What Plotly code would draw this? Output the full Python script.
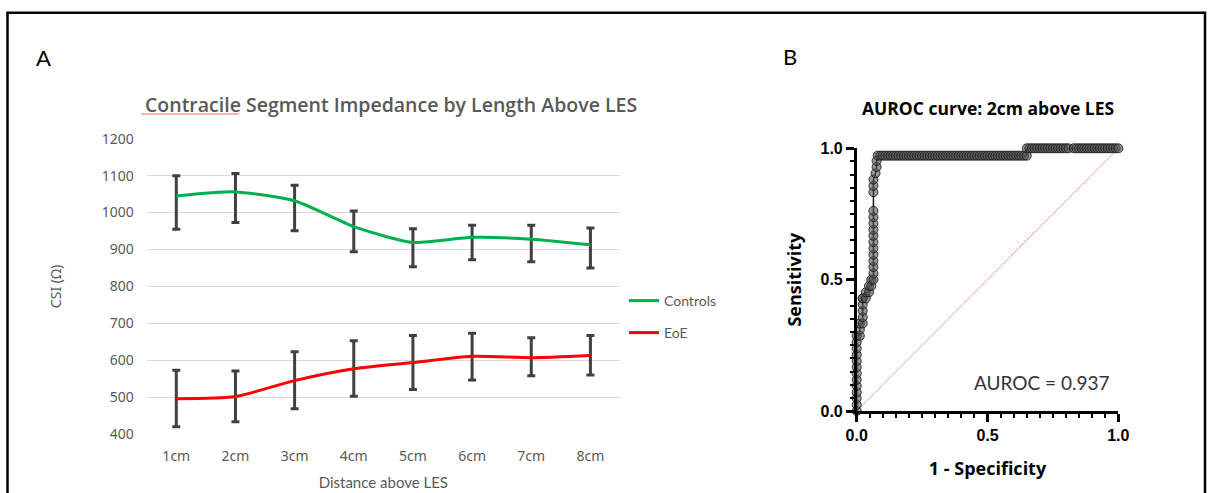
import plotly.graph_objects as go

W, H = 1212, 493

# ---------------- Data: panel A ----------------
distances = ["1cm", "2cm", "3cm", "4cm", "5cm", "6cm", "7cm", "8cm"]
controls_mean = [1045, 1056, 1032, 962, 919, 933, 928, 913]
controls_upper = [1100, 1106, 1074, 1004, 956, 966, 966, 958]
controls_lower = [955, 973, 951, 894, 853, 872, 867, 850]
eoe_mean = [496, 502, 545, 577, 594, 611, 607, 613]
eoe_upper = [573, 571, 623, 653, 667, 673, 661, 667]
eoe_lower = [420, 434, 469, 503, 521, 547, 558, 560]
y_ticks_a = [400, 500, 600, 700, 800, 900, 1000, 1100, 1200]

# ---------------- Data: panel B (ROC) ----------------
roc_fpr = [0, 0, 0, 0, 0, 0, 0, 0, 0, 0, 0, 0, 0,
           0.012, 0.012, 0.012, 0.023, 0.023, 0.023, 0.023, 0.023, 0.023,
           0.035, 0.035, 0.047, 0.047, 0.056, 0.056,
           0.064, 0.064, 0.064, 0.064, 0.064, 0.064, 0.064, 0.064, 0.064,
           0.064, 0.064, 0.064, 0.064, 0.064, 0.064,
           0.072, 0.076, 0.076,
           0.08, 0.09, 0.10, 0.11, 0.12, 0.13, 0.14, 0.15, 0.16, 0.17,
           0.18, 0.19, 0.20, 0.21, 0.22, 0.23, 0.24, 0.25, 0.26, 0.27,
           0.28, 0.29, 0.30, 0.31, 0.32, 0.33, 0.34, 0.35, 0.36, 0.37,
           0.38, 0.39, 0.40, 0.41, 0.42, 0.43, 0.44, 0.45, 0.46, 0.47,
           0.48, 0.49, 0.50, 0.51, 0.52, 0.53, 0.54, 0.55, 0.56, 0.57,
           0.58, 0.59, 0.60, 0.61, 0.62, 0.63, 0.64, 0.65,
           0.65, 0.66, 0.67, 0.68, 0.69, 0.70, 0.71, 0.72, 0.73, 0.74,
           0.75, 0.76, 0.77, 0.78, 0.79, 0.80, 0.81, 0.83, 0.84, 0.85,
           0.86, 0.87, 0.88, 0.89, 0.90, 0.91, 0.92, 0.93, 0.94, 0.95,
           0.96, 0.97, 0.98, 0.99, 1.0]
roc_tpr = [0, 0.024, 0.048, 0.071, 0.095, 0.119, 0.143, 0.167, 0.190, 0.214, 0.238, 0.262, 0.286,
           0.286, 0.310, 0.333, 0.333, 0.357, 0.381, 0.405, 0.429, 0.429,
           0.429, 0.452, 0.452, 0.476, 0.476, 0.500,
           0.500, 0.524, 0.548, 0.571, 0.595, 0.619, 0.643, 0.667, 0.690,
           0.714, 0.738, 0.762, 0.833, 0.857, 0.881,
           0.905, 0.929, 0.952,
           0.972, 0.972, 0.972, 0.972, 0.972, 0.972, 0.972, 0.972, 0.972, 0.972,
           0.972, 0.972, 0.972, 0.972, 0.972, 0.972, 0.972, 0.972, 0.972, 0.972,
           0.972, 0.972, 0.972, 0.972, 0.972, 0.972, 0.972, 0.972, 0.972, 0.972,
           0.972, 0.972, 0.972, 0.972, 0.972, 0.972, 0.972, 0.972, 0.972, 0.972,
           0.972, 0.972, 0.972, 0.972, 0.972, 0.972, 0.972, 0.972, 0.972, 0.972,
           0.972, 0.972, 0.972, 0.972, 0.972, 0.972, 0.972, 0.972,
           1.0, 1.0, 1.0, 1.0, 1.0, 1.0, 1.0, 1.0, 1.0, 1.0,
           1.0, 1.0, 1.0, 1.0, 1.0, 1.0, 1.0, 1.0, 1.0, 1.0,
           1.0, 1.0, 1.0, 1.0, 1.0, 1.0, 1.0, 1.0, 1.0, 1.0,
           1.0, 1.0, 1.0, 1.0, 1.0]
chance_x = [0, 1]
chance_y = [0, 1]
auroc_value = 0.937


def px(x):
    return x / W


def py(y):
    return 1 - y / H


GRAY_TXT = "#595959"
fig = go.Figure()

# ---- Panel A traces ----
fig.add_trace(go.Scatter(
    x=distances, y=controls_mean, mode="lines", name="Controls",
    line=dict(color="#00b050", width=3, shape="spline", smoothing=0.6),
    error_y=dict(type="data", symmetric=False,
                 array=[u - m for u, m in zip(controls_upper, controls_mean)],
                 arrayminus=[m - l for m, l in zip(controls_mean, controls_lower)],
                 color="#404040", thickness=3, width=4),
    xaxis="x", yaxis="y", legend="legend"))
fig.add_trace(go.Scatter(
    x=distances, y=eoe_mean, mode="lines", name="EoE",
    line=dict(color="#ff0000", width=3, shape="spline", smoothing=0.6),
    error_y=dict(type="data", symmetric=False,
                 array=[u - m for u, m in zip(eoe_upper, eoe_mean)],
                 arrayminus=[m - l for m, l in zip(eoe_mean, eoe_lower)],
                 color="#404040", thickness=3, width=4),
    xaxis="x", yaxis="y", legend="legend2"))

# ---- Panel B traces ----
fig.add_trace(go.Scatter(
    x=chance_x, y=chance_y, mode="lines", showlegend=False,
    line=dict(color="#ff9a9a", width=1), xaxis="x2", yaxis="y2", cliponaxis=False))
fig.add_trace(go.Scatter(
    x=roc_fpr, y=roc_tpr, mode="lines+markers", showlegend=False,
    line=dict(color="#111111", width=1.5),
    marker=dict(size=9, color="rgba(85,85,85,0.6)",
                line=dict(color="rgba(25,25,25,0.85)", width=1)),
    xaxis="x2", yaxis="y2", cliponaxis=False))

fig.update_layout(
    width=W, height=H, autosize=False,
    margin=dict(l=0, r=0, t=0, b=0, pad=0, autoexpand=False),
    paper_bgcolor="white", plot_bgcolor="white",
    font=dict(family="Lato, sans-serif", color=GRAY_TXT),
    xaxis=dict(domain=[px(146.7), px(620)], range=[-0.5, 7.5], type="category",
               showgrid=False, zeroline=False, showline=False, ticks="", automargin=False,
               ticklabelstandoff=12,
               tickfont=dict(family="Noto Sans", size=14, color=GRAY_TXT),
               title=dict(text="Distance above LES", font=dict(family="Lato", size=15, color=GRAY_TXT),
                          standoff=13),
               anchor="y"),
    yaxis=dict(domain=[py(434.2), py(138.7)], range=[400, 1200], tickvals=y_ticks_a,
               showgrid=True, gridcolor="#d9d9d9", gridwidth=1, zeroline=False,
               showline=False, ticks="", automargin=False, ticklabelstandoff=12,
               tickfont=dict(family="Noto Sans", size=14, color=GRAY_TXT),
               title=dict(text="CSI (Ω)", font=dict(family="Noto Sans", size=14, color=GRAY_TXT),
                          standoff=36),
               anchor="x"),
    xaxis2=dict(domain=[px(856.7), px(1118.3)], range=[0, 1], tickvals=[0, 0.5, 1.0],
                ticktext=["0.0", "0.5", "1.0"], automargin=False,
                showgrid=False, zeroline=False, showline=True, linecolor="black", linewidth=2.5,
                ticks="outside", ticklen=8, tickwidth=2.5, tickcolor="black",
                minor=dict(dtick=0.05, tick0=0, ticks="outside", ticklen=4, tickwidth=2,
                           tickcolor="black", showgrid=False),
                tickfont=dict(family="Liberation Sans", size=16, color="black", weight="bold"),
                title=dict(text="1 - Specificity",
                           font=dict(family="Open Sans", size=18, color="black", weight="bold"), standoff=20),
                anchor="y2"),
    yaxis2=dict(domain=[py(411), py(148.3)], range=[0, 1], tickvals=[0, 0.5, 1.0],
                ticktext=["0.0", "0.5", "1.0"], automargin=False,
                showgrid=False, zeroline=False, showline=True, linecolor="black", linewidth=2.5,
                ticks="outside", ticklen=8, tickwidth=2.5, tickcolor="black",
                minor=dict(dtick=0.05, tick0=0, ticks="outside", ticklen=4, tickwidth=2,
                           tickcolor="black", showgrid=False),
                tickfont=dict(family="Liberation Sans", size=16, color="black", weight="bold"),
                title=dict(text="Sensitivity",
                           font=dict(family="Open Sans", size=18, color="black", weight="bold"), standoff=15),
                anchor="x2"),
    legend=dict(x=px(624), y=py(285), xanchor="left", yanchor="top", bgcolor="rgba(0,0,0,0)",
                font=dict(family="Lato", size=14, color=GRAY_TXT)),
    legend2=dict(x=px(624), y=py(317), xanchor="left", yanchor="top", bgcolor="rgba(0,0,0,0)",
                 font=dict(family="Lato", size=14, color=GRAY_TXT)),
    showlegend=True,
)

annotations = [
    dict(text="A", x=px(43.5), y=py(57.5), font=dict(family="Lato", size=22, color="black")),
    dict(text="B", x=px(790), y=py(56.5), font=dict(family="Lato", size=22, color="black")),
    dict(text="Contracile Segment Impedance by Length Above LES", x=px(390.5), y=py(105),
         font=dict(family="Open Sans", size=19.5, color=GRAY_TXT, weight=600)),
    dict(text="<b>AUROC curve: 2cm above LES</b>", x=px(988), y=py(108),
         font=dict(family="Open Sans", size=17.5, color="black")),
    dict(text=f"AUROC = {auroc_value}", x=px(1041.5), y=py(382),
         font=dict(family="Lato", size=19, color="#333333")),
]
for a in annotations:
    a.update(xref="paper", yref="paper", showarrow=False, xanchor="center", yanchor="middle")
fig.update_layout(annotations=annotations)

shapes = [
    # page border (top, left, right)
    dict(type="path", path=f"M {px(7.5)} {py(500)} L {px(7.5)} {py(12.7)} L {px(1205)} {py(12.7)} L {px(1205)} {py(500)}",
         xref="paper", yref="paper", line=dict(color="black", width=2.5)),
    # spell-check underline under 'Contracile'
    dict(type="line", x0=px(141), x1=px(239), y0=py(114), y1=py(114), xref="paper", yref="paper",
         line=dict(color="#ff6060", width=1)),
]
fig.update_layout(shapes=shapes)

fig.write_html(
    "out.html",
    config={"responsive": False, "displayModeBar": False},
    post_script="document.body.style.margin='0px';document.body.style.overflow='hidden';",
)
